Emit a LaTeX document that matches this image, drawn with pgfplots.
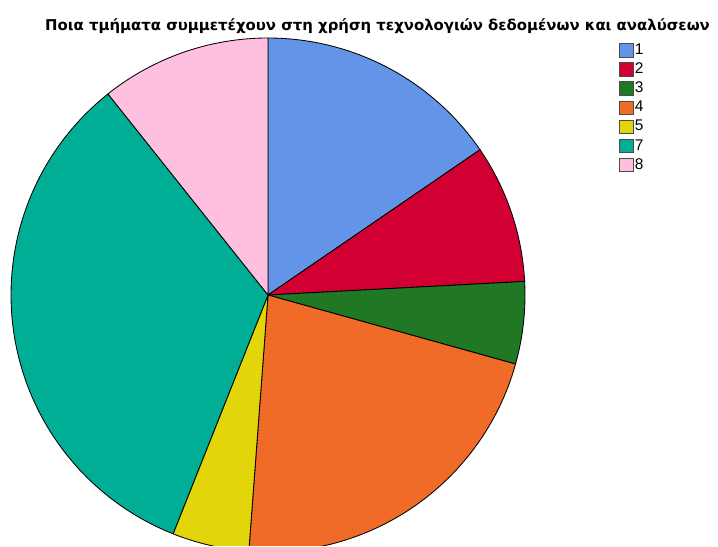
\documentclass[border=0pt]{standalone}
\usepackage{fontspec}
\setmainfont{Liberation Sans}
\newfontfamily\dejavu{DejaVu Sans}
\usepackage{pgfplots}
\pgfplotsset{compat=1.18}

\definecolor{c1}{RGB}{98,148,232}
\definecolor{c2}{RGB}{210,0,50}
\definecolor{c3}{RGB}{32,120,36}
\definecolor{c4}{RGB}{240,106,40}
\definecolor{c5}{RGB}{226,214,10}
\definecolor{c7}{RGB}{0,174,150}
\definecolor{c8}{RGB}{255,192,224}

% pie centre and radius, in pixels of the 718x546 frame
\def\cx{268}
\def\cy{251}
\def\rr{257}
\gdef\cum{0}

% #1 = share in percent, #2 = colour, #3 = legend label
\newcommand{\pieslice}[3]{%
  \pgfmathsetmacro{\angA}{90-3.6*\cum}%
  \pgfmathsetmacro{\newcum}{\cum+#1}%
  \xdef\cum{\newcum}%
  \pgfmathsetmacro{\angB}{90-3.6*\cum}%
  \edef\doslice{\noexpand\addplot[fill=#2, draw=black, line width=0.6pt,
    domain=\angB:\angA, samples=90]
    ({\cx+\rr*cos(x)},{\cy+\rr*sin(x)}) -- (axis cs:\cx,\cy) -- cycle;}%
  \doslice
  \addlegendentry{#3}%
}

\begin{document}
\begin{tikzpicture}
\useasboundingbox (0,0) rectangle (17.95cm,13.65cm);
\begin{axis}[
  at={(0,0)}, anchor=south west,
  width=17.95cm, height=13.65cm, scale only axis,
  xmin=0, xmax=718, ymin=0, ymax=546,
  hide axis, clip=true,
  legend cell align=left,
  legend style={draw=none, fill=none, at={(axis cs:619,504)}, anchor=north west,
    font=\fontsize{11}{11}\selectfont, row sep=2.5pt, inner sep=0pt,
    nodes={inner sep=1pt}},
  legend image code/.code={\draw[#1, draw=black!70, line width=0.4pt] (0cm,-0.17cm) rectangle (0.34cm,0.17cm);},
]
\pieslice{15.44}{c1}{1}
\pieslice{8.72}{c2}{2}
\pieslice{5.17}{c3}{3}
\pieslice{21.86}{c4}{4}
\pieslice{4.83}{c5}{5}
\pieslice{33.28}{c7}{7}
\pieslice{10.70}{c8}{8}
\node[anchor=base, font=\dejavu\bfseries\fontsize{10.6}{12}\selectfont] at (axis cs:377.5,515)
  {Ποια τμήματα συμμετέχουν στη χρήση τεχνολογιών δεδομένων και αναλύσεων};
\end{axis}
\end{tikzpicture}
\end{document}
